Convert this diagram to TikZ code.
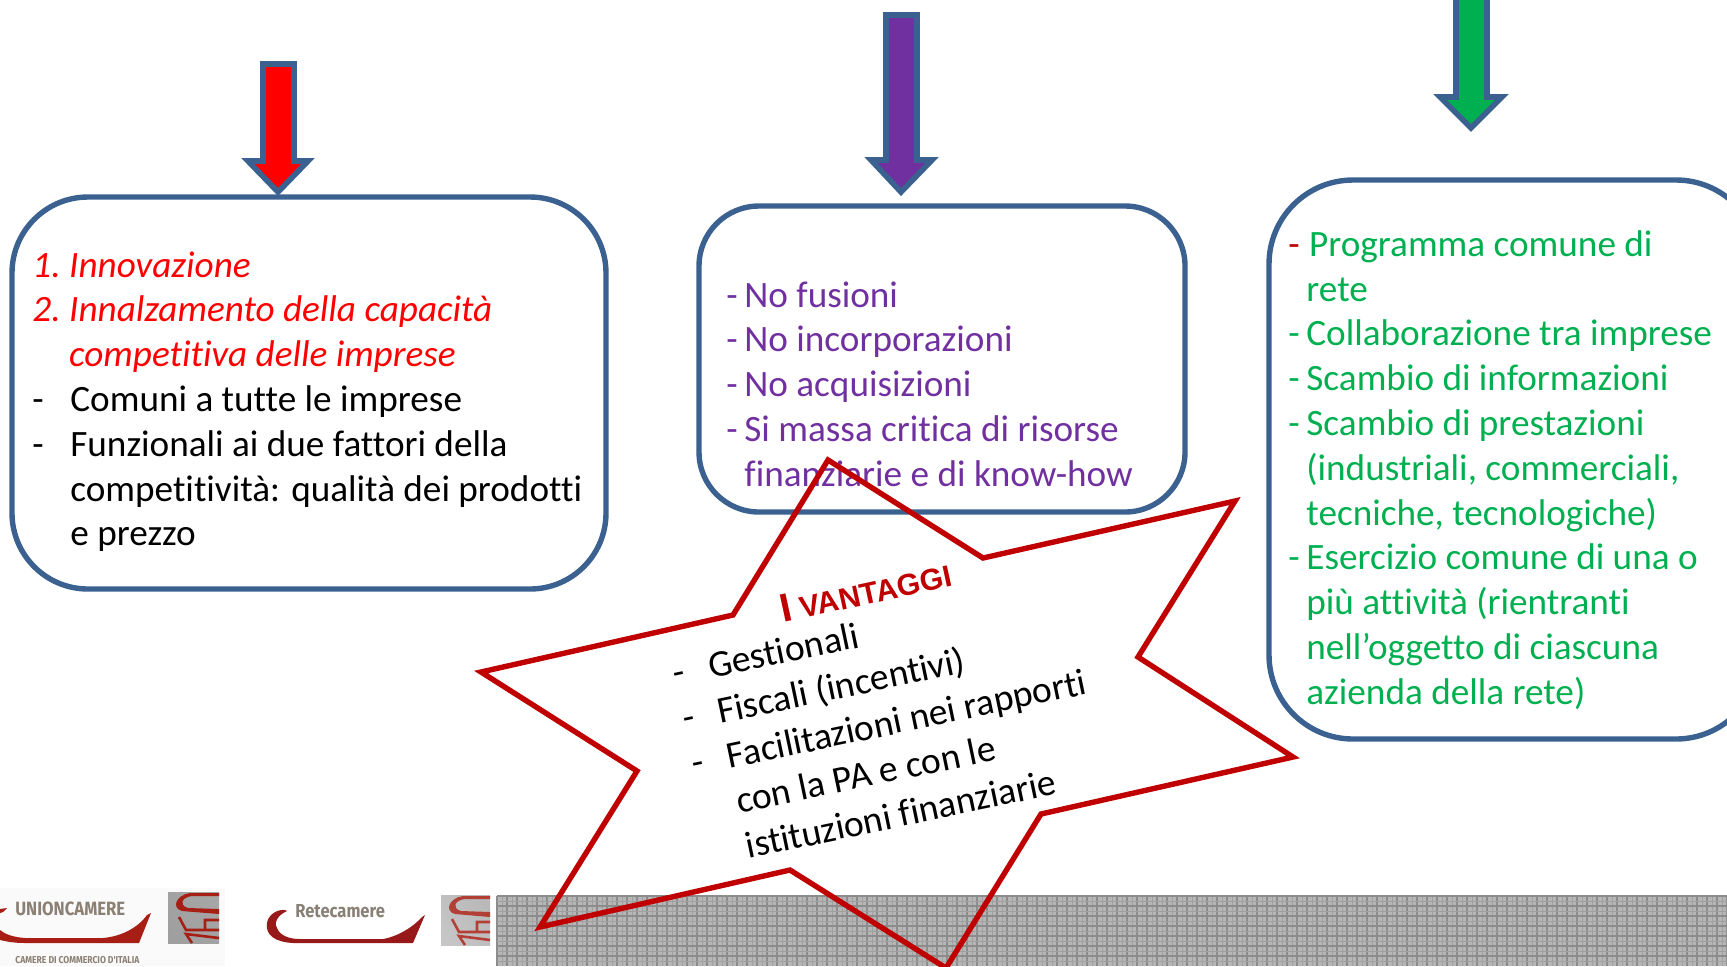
\documentclass[tikz,border=0pt]{standalone}
\usepackage{fontspec}
\setmainfont[Ligatures=NoCommon]{Carlito}
\newfontfamily\arialf{Liberation Sans}
\newfontfamily\logof{Fira Sans}
\definecolor{boxblue}{HTML}{3B6190}
\definecolor{starred}{HTML}{C00000}
\definecolor{mypurple}{HTML}{7030A0}
\definecolor{mygreen}{HTML}{00B050}
\definecolor{logored}{HTML}{A61E14}
\definecolor{logogray}{HTML}{8C8074}
\definecolor{bandbase}{HTML}{B6B6B6}
\definecolor{bandmajor}{HTML}{8C8C8C}
\definecolor{bandminor}{HTML}{A0A0A0}
\newcommand{\dashit}[2][19pt]{\makebox[#1][l]{#2}}
\tikzset{
 x=0.5pt,y=-0.5pt,
 panel/.style={draw=boxblue,line width=2.7pt,rounded corners=#1},
 downarrow/.style={draw=boxblue,line width=2.8pt,fill=#1,miter limit=10},
 blocktext/.style={anchor=north west,align=left,inner sep=0pt,font=\fontsize{18.6}{22.4}\selectfont},
 logotext/.style={anchor=base west,inner sep=0pt,font=\logof\bfseries},
}
\begin{document}
\begin{tikzpicture}
\useasboundingbox (0,0) rectangle (1727,966);
% band
\fill[bandbase] (497,896) rectangle (1727,966);
\foreach \i in {0,...,123} {
  \draw[bandminor,line width=0.4pt] ({502+10*\i},896) -- ({502+10*\i},966);
  \draw[bandmajor,line width=0.6pt] ({497+10*\i},896) -- ({497+10*\i},966);}
\foreach \i in {0,...,6} {
  \draw[bandminor,line width=0.4pt] (497,{901+10*\i}) -- (1727,{901+10*\i});
  \draw[bandmajor,line width=0.6pt] (497,{896+10*\i}) -- (1727,{896+10*\i});}
% panels
\draw[panel=38pt] (12,197) rectangle (606,589);
\draw[panel=30pt] (699,206) rectangle (1185,512);
\draw[panel=42pt] (1269,180) rectangle (1760,739);
% arrows
\draw[downarrow=red] (263,64) -- (294,64) -- (294,161) -- (308,161) -- (278,192) -- (248,161) -- (263,161) -- cycle;
\draw[downarrow=mypurple] (886,15) -- (917,15) -- (917,160) -- (932,160) -- (901,192) -- (871,160) -- (886,160) -- cycle;
\draw[downarrow=mygreen] (1456,-5) -- (1487,-5) -- (1487,97) -- (1502,97) -- (1471,128) -- (1440,97) -- (1456,97) -- cycle;
% texts
\node[blocktext] (redtext) at (32,251) {\color{red}\itshape\dashit[18.4pt]{1.}Innovazione\\
\color{red}\itshape\dashit[18.4pt]{2.}Innalzamento della capacità\\
\color{red}\itshape\dashit[18.4pt]{}competitiva delle imprese\\
\dashit{-}Comuni a tutte le imprese\\
\dashit{-}Funzionali ai due fattori della\\
\dashit{}competitività: qualità dei prodotti\\
\dashit{}e prezzo};
\node[blocktext,text=mypurple] (purpletext) at (726,281) {\dashit[9pt]{-}No fusioni\\
\dashit[9pt]{-}No incorporazioni\\
\dashit[9pt]{-}No acquisizioni\\
\dashit[9pt]{-}Si massa critica di risorse\\
\dashit[9pt]{}finanziarie e di know-how};
\node[blocktext,text=mygreen] (greentext) at (1288,230) {\dashit[10.4pt]{\color{starred}-}Programma comune di\\
\dashit[9pt]{}rete\\
\dashit[9pt]{-}Collaborazione tra imprese\\
\dashit[9pt]{-}Scambio di informazioni\\
\dashit[9pt]{-}Scambio di prestazioni\\
\dashit[9pt]{}(industriali, commerciali,\\
\dashit[9pt]{}tecniche, tecnologiche)\\
\dashit[9pt]{-}Esercizio comune di una o\\
\dashit[9pt]{}più attività (rientranti\\
\dashit[9pt]{}nell’oggetto di ciascuna\\
\dashit[9pt]{}azienda della rete)};
% star
\draw[starred,line width=2.7pt,miter limit=10] (828,460) -- (983,558) -- (1235,501) -- (1138,657) -- (1293,757) -- (1041,814) -- (946,968) -- (790,870) -- (540,927) -- (637,771) -- (481,672) -- (733,615) -- cycle;
\node[anchor=base west,inner sep=0pt,rotate=12.3,text=starred,font=\arialf\bfseries\fontsize{15.1}{16}\selectfont] (vantaggi) at (783,623) {{\fontsize{20}{20}\selectfont I} VANTAGGI};
\node[blocktext,anchor=north west,rotate=11.8,font=\fontsize{18.8}{23}\selectfont] (startext) at (670,660) {\dashit[18pt]{-}Gestionali\\
\dashit[18pt]{-}Fiscali (incentivi)\\
\dashit[18pt]{-}Facilitazioni nei rapporti\\
\dashit[18pt]{}con la PA e con le\\
\dashit[18pt]{}istituzioni finanziarie};
% logos
\fill[black!2] (0,888) rectangle (225,966);
\fill[logored] (0,909) -- (7,908) -- (3,912) -- (0,913) -- cycle;
\fill[logored] (0,930) .. controls (5,934) and (12,937) .. (25,938) -- (103,938) .. controls (125,936) and (140,925) .. (147,915) -- (151,913) -- (139,943) -- (25,943) .. controls (12,943) and (5,941) .. (0,940) -- cycle;
\node[logotext,text=logogray,xscale=0.87,font=\logof\bfseries\fontsize{9.6}{10}\selectfont] (unionc) at (15,915) {UNIONCAMERE};
\node[logotext,text=logogray,xscale=0.86,font=\logof\bfseries\fontsize{5}{6}\selectfont] (camere) at (15,963) {CAMERE DI COMMERCIO D'ITALIA};
\shade[top color=gray!70,middle color=gray!15,bottom color=gray!75,shading angle=-50] (168,892) rectangle (219,943);
\fill[logored,even odd rule] (219,893) -- (190,893) .. controls (176,895) and (171,908) .. (182,911) -- (219,914) -- (219,909) -- (188,908) .. controls (178,905) and (182,897) .. (192,896) -- (219,896) -- cycle;
\draw[logored,line width=1.3pt] (179,917) -- (186,930) -- (219,930) (205,930) -- (205,920) -- (219,920) (192,943) -- (186,934) -- (219,938);
\fill[red!55!black!90!white] (267,923) .. controls (268,915) and (277,909) .. (285,910) -- (287,911) .. controls (280,914) and (273,921) .. (277,928) .. controls (280,936) and (290,939) .. (300,939) -- (383,939) .. controls (400,936) and (415,925) .. (422,917) -- (425,915) -- (413,943) -- (293,943) .. controls (275,942) and (265,935) .. (267,923) -- cycle;
\node[logotext,text=gray!85!brown,xscale=0.88,font=\logof\bfseries\fontsize{9.4}{10}\selectfont] (retec) at (295,917) {Retecamere};
\shade[top color=gray!55,middle color=gray!10,bottom color=gray!45,shading angle=-50] (441,895) rectangle (490,945);
\fill[logored!85,even odd rule] (490,896) -- (463,896) .. controls (449,898) and (444,911) .. (455,914) -- (490,917) -- (490,912) -- (461,911) .. controls (451,908) and (455,900) .. (465,899) -- (490,899) -- cycle;
\draw[logored!85,line width=1.3pt] (452,919) -- (459,932) -- (490,932) (477,932) -- (477,922) -- (490,922) (465,945) -- (459,936) -- (490,940);
\end{tikzpicture}
\end{document}
